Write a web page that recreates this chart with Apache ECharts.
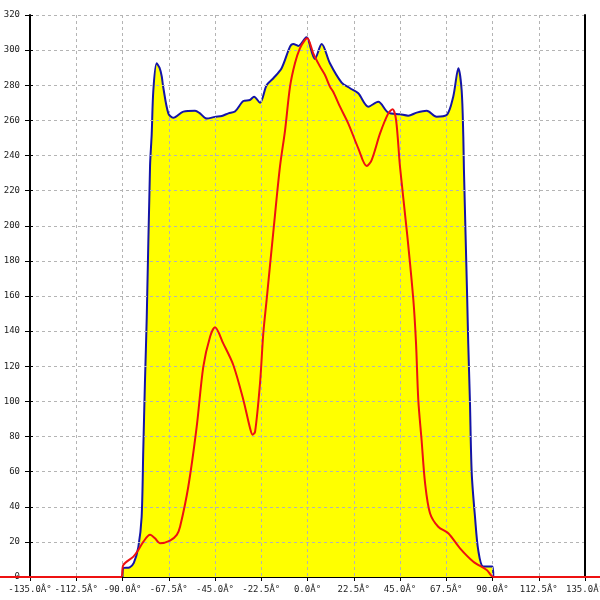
<!DOCTYPE html>
<html><head><meta charset="utf-8">
<script src="https://cdn.jsdelivr.net/npm/echarts@6/dist/echarts.min.js"></script>
<style>html,body{margin:0;padding:0;background:#fff}#c{width:600px;height:600px}</style>
</head><body><div id="c"></div>
<script>
// x tick settings (degrees) and y tick settings
const xTicks = { min: -135, max: 135, step: 22.5 };
const yTicks = { min: 0, max: 320, step: 20 };

// Outer profile (blue line, yellow fill): [angle deg, value]
const blueProfile = [
  [-90,0],[-89.6,5],[-86.5,5.5],[-84.5,8],[-82.3,17],[-80.7,34],[-79.9,72],[-79.1,110],[-78.2,148],
  [-76.6,234],[-75.8,252],[-75,277],[-73.4,292.5],[-72,290],[-70.9,285],[-70.2,279],[-67.7,264],
  [-65.3,261.5],[-60.4,265],[-54.7,265.5],[-52.3,264],[-49,261],[-45,262],[-41.7,262.5],[-38.5,264],
  [-35.3,265],[-31.2,271],[-28,271.6],[-26,273.5],[-23.1,270],[-19.9,280],[-16.6,284],[-12.6,289.7],
  [-8.5,302],[-6.9,303.5],[-4.5,302.4],[-1.2,306.7],[-0.4,307.3],[0.4,305.8],[3.6,295],[6.9,303.5],
  [10.9,292.5],[16.6,281.5],[20.7,278.3],[24.7,275.4],[29.6,267.8],[34.4,270.6],[39.3,264.4],
  [45,263.5],[49,262.7],[53.1,264.4],[58,265.5],[62.8,262.1],[67.7,263],[70.9,273.5],[73.4,289.7],
  [75,277],[75.8,250.7],[76.1,232],[77.7,158],[78.2,133],[79,101],[79.9,59],[81.5,34],[83.1,15],
  [85.5,6],[90,6],[90.4,0]
];

// Inner profile (red line): [angle deg, value]
const redProfile = [
  [-180,0],[-90.8,0],[-89.6,6.8],[-84.7,11.6],[-82.3,15.4],[-79.9,20],[-76.6,24],[-74.2,22],
  [-71.8,19.2],[-66.9,20.7],[-63.6,24],[-62,28.6],[-58,51.4],[-53.9,85.6],[-50.7,119.7],[-47.4,136.8],
  [-45,142.2],[-41,133],[-36.1,120.7],[-31.2,100.8],[-28,85],[-26.7,81],[-25.5,82.7],[-23.1,110.3],
  [-21.5,138.8],[-19.9,157.7],[-16.5,198],[-13.4,233.6],[-10.9,254.5],[-8.5,279.2],[-6.1,292.5],
  [-3.7,301],[-1.2,305.8],[-0.1,306.7],[2.8,298.2],[6.1,290.6],[8.5,285.8],[10.9,279.2],[12.5,276.3],
  [15.8,267.8],[19.8,258.3],[24.7,244.1],[28.8,234],[31.2,237.4],[35.3,252.6],[39.3,264],[41.4,266.3],
  [43.1,260.2],[45,233.6],[48.5,195],[51.5,157.7],[52.8,133],[53.9,100.8],[55.5,78],[57.2,53.4],
  [59.6,36.3],[63.6,28.6],[68.5,24.9],[74.2,16.3],[80.7,8.7],[87.2,4],[90.7,0],[180,0]
];

const W = 600, H = 600;
const G = { left: 30, right: 15, top: 15, bottom: 23 };
// full-width overlay grid for the red trace, which runs past the plot edges in the original
const degPerPx = (xTicks.max - xTicks.min) / (W - G.left - G.right);
const wideMin = xTicks.min - G.left * degPerPx;
const wideMax = xTicks.max + G.right * degPerPx;

const font = 'DejaVu Sans Mono';
const gridLine = { show: true, lineStyle: { color: '#b4b4b4', width: 1, type: [3, 3] } };
const hidden = { show: false };

const chart = echarts.init(document.getElementById('c'), null, { renderer: 'canvas' });
chart.setOption({
  animation: false,
  grid: [
    { left: G.left, right: G.right, top: G.top, bottom: G.bottom, containLabel: false, outerBoundsMode: 'none' },
    { left: 0, right: 0, top: G.top, bottom: G.bottom, containLabel: false, outerBoundsMode: 'none' }
  ],
  xAxis: [{
    type: 'value', gridIndex: 0, min: xTicks.min, max: xTicks.max, interval: xTicks.step, z: 3,
    axisLine: { onZero: false, lineStyle: { color: '#000', width: 1 } },
    axisTick: { show: true, length: 4, lineStyle: { color: '#000' } },
    axisLabel: { formatter: v => v.toFixed(1) + 'Â°', fontFamily: font, fontSize: 9, color: '#222',
                 margin: 8, showMinLabel: true, showMaxLabel: true, hideOverlap: false },
    splitLine: gridLine
  }, {
    type: 'value', gridIndex: 1, min: wideMin, max: wideMax, show: false,
    axisLine: hidden, axisTick: hidden, axisLabel: hidden, splitLine: hidden
  }],
  yAxis: [{
    type: 'value', gridIndex: 0, min: yTicks.min, max: yTicks.max, interval: yTicks.step, z: 3,
    axisLine: { show: true, onZero: false, lineStyle: { color: '#000', width: 2 } },
    axisTick: { show: true, length: 5, lineStyle: { color: '#000' } },
    axisLabel: { fontFamily: font, fontSize: 9, color: '#222', margin: 10 },
    splitLine: gridLine
  }, {
    type: 'value', gridIndex: 0, min: yTicks.min, max: yTicks.max, interval: yTicks.step, position: 'left', offset: 0, z: 3,
    axisLine: { show: false, onZero: false },
    axisTick: { show: true, inside: true, length: 3, lineStyle: { color: '#000' } },
    axisLabel: { show: false }, splitLine: { show: false }
  }, {
    type: 'value', gridIndex: 0, min: yTicks.min, max: yTicks.max, interval: yTicks.step, position: 'right', offset: 0, z: 3,
    axisLine: { show: true, onZero: false, lineStyle: { color: '#000', width: 2 } },
    axisTick: { show: false }, axisLabel: { show: false }, splitLine: { show: false }
  }, {
    type: 'value', gridIndex: 1, min: yTicks.min, max: yTicks.max, show: false,
    axisLine: hidden, axisTick: hidden, axisLabel: hidden, splitLine: hidden
  }],
  series: [{
    type: 'line', xAxisIndex: 0, yAxisIndex: 0, data: blueProfile, symbol: 'none', smooth: 0.3, z: 2,
    lineStyle: { color: '#1414a8', width: 2 },
    areaStyle: { color: '#ffff00', opacity: 1 }
  }, {
    type: 'line', xAxisIndex: 1, yAxisIndex: 3, data: redProfile, symbol: 'none', smooth: 0.3, clip: false, z: 4,
    lineStyle: { color: '#ee1111', width: 2 }
  }]
});
</script></body></html>
